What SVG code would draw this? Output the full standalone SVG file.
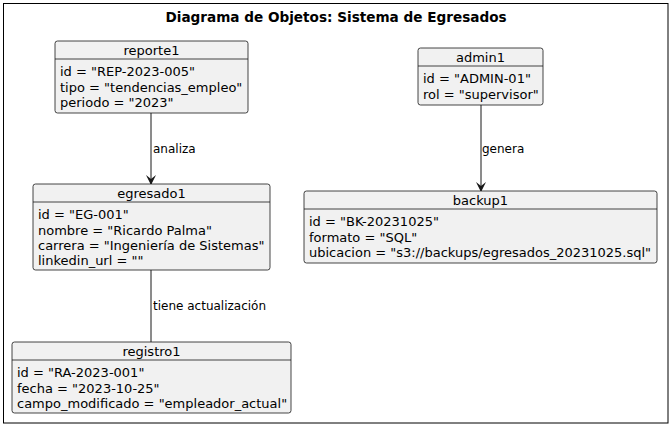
<svg xmlns="http://www.w3.org/2000/svg" width="672" height="428" viewBox="0 0 672 428">
<defs>
<style>
.box{fill:#F1F1F1;stroke:#181818;stroke-width:0.8}
.div{stroke:#181818;stroke-width:0.8}
.t{font-family:"DejaVu Sans",sans-serif;font-size:13px;fill:#000}
.h{text-anchor:middle}
.title{font-family:"DejaVu Sans",sans-serif;font-size:13.6px;font-weight:bold;text-anchor:middle}
.c{stroke:#181818;stroke-width:1;fill:none}
.lbl{font-family:"DejaVu Sans",sans-serif;font-size:12px;fill:#000}
</style>
<marker id="ah" viewBox="0 0 10 10" refX="9" refY="5" markerWidth="10" markerHeight="10" markerUnits="userSpaceOnUse" orient="auto">
<path d="M0,0 L10,5 L0,10 L4,5 Z" fill="#181818"/>
</marker>
</defs>
<rect x="0" y="0" width="672" height="428" fill="#fff"/>
<rect x="3.5" y="3.5" width="664.5" height="419.5" fill="none" stroke="#000" stroke-width="1"/>
<text class="title" x="336" y="22">Diagrama de Objetos: Sistema de Egresados</text>

<g id="connectors">
<line class="c" x1="151" y1="113" x2="151" y2="184" marker-end="url(#ah)"/>
<text class="lbl" x="153" y="153">analiza</text>
<line class="c" x1="481" y1="105" x2="481" y2="191" marker-end="url(#ah)"/>
<text class="lbl" x="482" y="153">genera</text>
<line class="c" x1="151" y1="270" x2="151" y2="342"/>
<text class="lbl" x="153" y="310">tiene actualización</text>
</g>

<g id="reporte1">
<rect class="box" x="55" y="41" width="193" height="72" rx="2.5"/>
<line class="div" x1="55" y1="59" x2="248" y2="59"/>
<text class="t h" x="151.5" y="55">reporte1</text>
<text class="t" x="60" y="76">id = "REP-2023-005"</text>
<text class="t" x="60" y="92">tipo = "tendencias_empleo"</text>
<text class="t" x="60" y="107">periodo = "2023"</text>
</g>

<g id="admin1">
<rect class="box" x="418" y="48" width="125" height="57" rx="2.5"/>
<line class="div" x1="418" y1="66" x2="543" y2="66"/>
<text class="t h" x="480.5" y="62">admin1</text>
<text class="t" x="423" y="83">id = "ADMIN-01"</text>
<text class="t" x="423" y="99">rol = "supervisor"</text>
</g>

<g id="egresado1">
<rect class="box" x="33" y="184" width="237" height="86" rx="2.5"/>
<line class="div" x1="33" y1="202" x2="270" y2="202"/>
<text class="t h" x="151.5" y="198">egresado1</text>
<text class="t" x="38" y="219">id = "EG-001"</text>
<text class="t" x="38" y="235">nombre = "Ricardo Palma"</text>
<text class="t" x="38" y="250">carrera = "Ingeniería de Sistemas"</text>
<text class="t" x="38" y="265">linkedin_url = ""</text>
</g>

<g id="backup1">
<rect class="box" x="304" y="191" width="353" height="72" rx="2.5"/>
<line class="div" x1="304" y1="209" x2="657" y2="209"/>
<text class="t h" x="480.5" y="205">backup1</text>
<text class="t" x="309" y="226">id = "BK-20231025"</text>
<text class="t" x="309" y="242">formato = "SQL"</text>
<text class="t" x="309" y="257">ubicacion = "s3://backups/egresados_20231025.sql"</text>
</g>

<g id="registro1">
<rect class="box" x="12" y="342" width="279" height="71" rx="2.5"/>
<line class="div" x1="12" y1="360" x2="291" y2="360"/>
<text class="t h" x="151.5" y="356">registro1</text>
<text class="t" x="17" y="377">id = "RA-2023-001"</text>
<text class="t" x="17" y="393">fecha = "2023-10-25"</text>
<text class="t" x="17" y="408">campo_modificado = "empleador_actual"</text>
</g>
</svg>
